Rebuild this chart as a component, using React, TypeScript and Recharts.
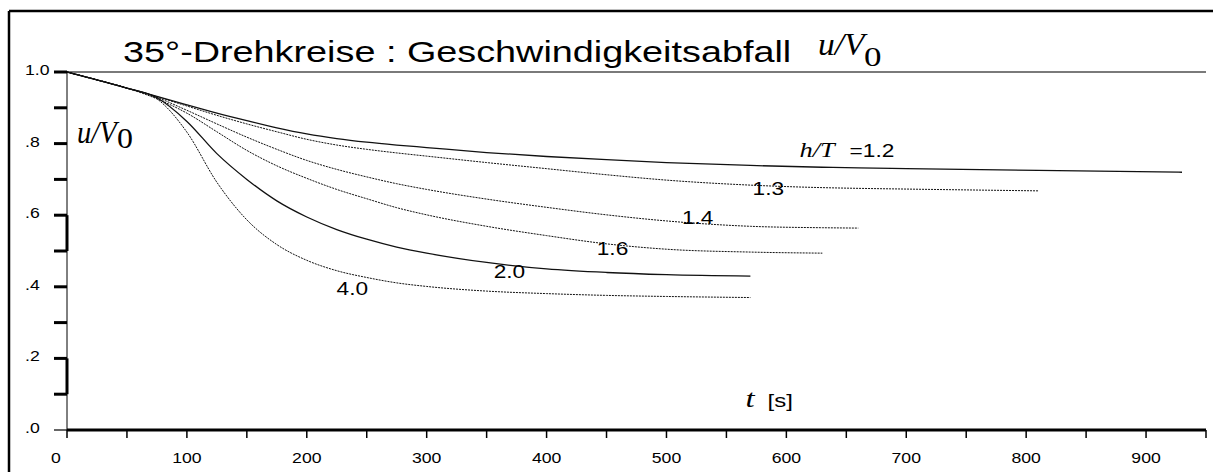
import { LineChart, Line, XAxis, YAxis, ReferenceLine, ReferenceDot } from "recharts";

// time grid [s]
const T = [0, 25, 50, 75, 100, 125, 150, 175, 200, 225, 250, 275, 300, 350, 400, 450, 500, 570, 630, 660, 700, 810, 930];

// u/V0 per h/T value (null = curve ended)
const U_12 = [1, 0.978, 0.955, 0.932, 0.908, 0.885, 0.864, 0.844, 0.827, 0.814, 0.804, 0.796, 0.789, 0.775, 0.764, 0.755, 0.747, 0.739, 0.734, 0.732, 0.73, 0.725, 0.72];
const U_13 = [1, 0.978, 0.955, 0.931, 0.905, 0.879, 0.855, 0.833, 0.812, 0.796, 0.784, 0.774, 0.765, 0.747, 0.73, 0.713, 0.698, 0.684, 0.677, 0.675, 0.673, 0.668, null];
const U_14 = [1, 0.978, 0.955, 0.929, 0.893, 0.855, 0.818, 0.784, 0.753, 0.728, 0.707, 0.688, 0.672, 0.645, 0.622, 0.601, 0.584, 0.569, 0.565, 0.564, null, null, null];
const U_16 = [1, 0.978, 0.955, 0.925, 0.885, 0.833, 0.781, 0.738, 0.703, 0.672, 0.646, 0.621, 0.601, 0.569, 0.543, 0.52, 0.505, 0.497, 0.494, null, null, null, null];
const U_20 = [1, 0.978, 0.955, 0.928, 0.862, 0.772, 0.7, 0.64, 0.595, 0.56, 0.533, 0.511, 0.494, 0.468, 0.45, 0.44, 0.434, 0.43, null, null, null, null, null];
const U_40 = [1, 0.978, 0.955, 0.925, 0.832, 0.692, 0.587, 0.518, 0.474, 0.445, 0.426, 0.411, 0.401, 0.388, 0.381, 0.376, 0.373, 0.37, null, null, null, null, null];

const X_TICKS = [0, 50, 100, 150, 200, 250, 300, 350, 400, 450, 500, 550, 600, 650, 700, 750, 800, 850, 900, 950];
const Y_TICKS = [0, 0.1, 0.2, 0.3, 0.4, 0.5, 0.6, 0.7, 0.8, 0.9, 1];
const Y_LABELS: Record<string, string> = { "0": ".0", "0.2": ".2", "0.4": ".4", "0.6": ".6", "0.8": ".8", "1": "1.0" };

// curve labels: [text, t, u]
const CURVE_LABELS: [string, number, number][] = [
  ["1.3", 585, 0.673],
  ["1.4", 526, 0.592],
  ["1.6", 455, 0.506],
  ["2.0", 369, 0.441],
  ["4.0", 238, 0.394],
];

const data = T.map((t, i) => ({
  t,
  h12: U_12[i],
  h13: U_13[i],
  h14: U_14[i],
  h16: U_16[i],
  h20: U_20[i],
  h40: U_40[i],
}));

const SERIES = [
  { key: "h12", dash: undefined, w: 1.3 },
  { key: "h13", dash: "2 1", w: 1 },
  { key: "h14", dash: "2 1", w: 1 },
  { key: "h16", dash: "2 1", w: 1 },
  { key: "h20", dash: undefined, w: 1.3 },
  { key: "h40", dash: "2 1", w: 1 },
];

const ARIAL = "'Liberation Sans', Arial, sans-serif";
const TIMES = "'Liberation Serif', 'Times New Roman', serif";

// the original is stretched sideways, so most text gets a horizontal scale
function SText({ x, y, size, family = ARIAL, italic = false, anchor = "start", sx = 1.26, children }: any) {
  return (
    <text
      transform={`translate(${x},${y}) scale(${sx},1)`}
      fontSize={size}
      fontFamily={family}
      fontStyle={italic ? "italic" : "normal"}
      textAnchor={anchor}
      fill="#000"
    >
      {children}
    </text>
  );
}

function XTick(props: any) {
  const { x, y, payload } = props;
  const v = payload.value;
  return (
    <g>
      <line x1={x} y1={y} x2={x} y2={y + 8} stroke="#000" strokeWidth={1.5} />
      {v % 100 === 0 && (
        <SText x={x + (v === 0 ? -11 : 0)} y={y + 33} size={14} anchor="middle">
          {v}
        </SText>
      )}
    </g>
  );
}

function YTick(props: any) {
  const { x, y, payload } = props;
  const v = payload.value;
  const label = Y_LABELS[String(v)];
  return (
    <g>
      <line x1={x - 13} y1={y} x2={x} y2={y} stroke="#000" strokeWidth={v === 0 ? 1.2 : 3} />
      {label && (
        <SText x={25} y={y + 3} size={14}>
          {label}
        </SText>
      )}
    </g>
  );
}

const curveLabel = (text: string) => (p: any) => {
  const { x, y } = p.viewBox;
  return (
    <SText x={x} y={y + 6} size={18} anchor="middle">
      {text}
    </SText>
  );
};

const htLabel = (p: any) => {
  const { x, y } = p.viewBox;
  return (
    <g>
      <SText x={x} y={y + 6} size={22} family={TIMES} italic sx={1.2}>
        h/T
      </SText>
      <SText x={x + 50} y={y + 6} size={18}>
        =1.2
      </SText>
    </g>
  );
};

const tLabel = (p: any) => {
  const { x, y } = p.viewBox;
  return (
    <g>
      <SText x={x} y={y + 7} size={26} family={TIMES} italic>
        t
      </SText>
      <SText x={x + 22} y={y + 7} size={19}>
        [s]
      </SText>
    </g>
  );
};

export default function App() {
  return (
    <div style={{ position: "relative", width: 1213, height: 472, overflow: "hidden", background: "#fff" }}>
      <style>{`body{margin:0}`}</style>
      <div style={{ position: "absolute", left: 0, top: 0 }}>
        <LineChart width={1213} height={472} data={data} margin={{ top: 72, right: 7, bottom: 0, left: 0 }}>
          <XAxis
            dataKey="t"
            type="number"
            domain={[0, 950]}
            ticks={X_TICKS}
            interval={0}
            height={42}
            tickSize={0}
            tickMargin={0}
            tick={<XTick />}
            axisLine={{ stroke: "#000", strokeWidth: 3 }}
          />
          <YAxis
            type="number"
            domain={[0, 1]}
            ticks={Y_TICKS}
            interval={0}
            width={67}
            tickSize={0}
            tickMargin={0}
            tick={<YTick />}
            axisLine={{ stroke: "#000", strokeWidth: 1 }}
          />
          <ReferenceLine y={1} stroke="#7a7a7a" strokeWidth={2} />
          <ReferenceLine segment={[{ x: 0, y: 0.5 }, { x: 0, y: 0.6 }]} stroke="#000" strokeWidth={3} />
          <ReferenceLine segment={[{ x: 0, y: 0.1 }, { x: 0, y: 0.2 }]} stroke="#000" strokeWidth={3} />
          {SERIES.map((s) => (
            <Line
              key={s.key}
              dataKey={s.key}
              type="monotone"
              stroke="#111"
              strokeWidth={s.w}
              strokeDasharray={s.dash}
              dot={false}
              activeDot={false}
              isAnimationActive={false}
            />
          ))}
          {CURVE_LABELS.map(([txt, t, u]) => (
            <ReferenceDot key={txt} x={t} y={u} r={0} stroke="none" fill="none" label={curveLabel(txt)} />
          ))}
          <ReferenceDot x={611} y={0.779} r={0} stroke="none" fill="none" label={htLabel} />
          <ReferenceDot x={566} y={0.084} r={0} stroke="none" fill="none" label={tLabel} />
        </LineChart>
      </div>
      <svg width={1213} height={472} style={{ position: "absolute", left: 0, top: 0, pointerEvents: "none" }}>
        <line x1={9} y1={11} x2={1213} y2={11} stroke="#000" strokeWidth={2.5} />
        <line x1={9} y1={11} x2={9} y2={472} stroke="#000" strokeWidth={2.5} />
        <SText x={123} y={62} size={30}>
          35°-Drehkreise : Geschwindigkeitsabfall
        </SText>
        <SText x={818} y={55} size={31} family={TIMES} italic sx={1.08}>
          u/V
        </SText>
        <SText x={864} y={66} size={28} family={TIMES} sx={1.25}>
          0
        </SText>
        <SText x={77} y={143} size={31} family={TIMES} italic sx={0.92}>
          u/V
        </SText>
        <SText x={117} y={148} size={29} family={TIMES} sx={1.1}>
          0
        </SText>
      </svg>
    </div>
  );
}
